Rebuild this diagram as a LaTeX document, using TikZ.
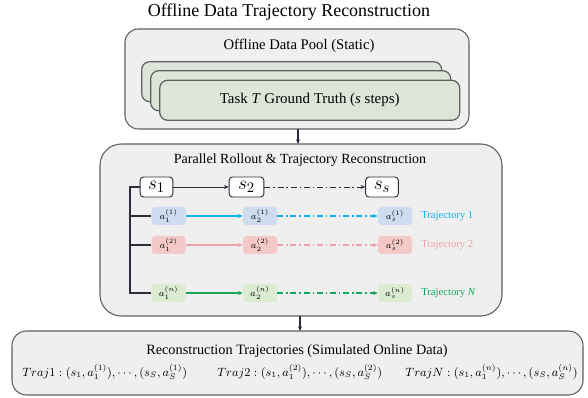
\documentclass[tikz,border=0pt]{standalone}
\usepackage{fontspec}
\setmainfont{Liberation Serif}
\usetikzlibrary{arrows.meta}
\definecolor{boxgray}{HTML}{EFEFEF}
\definecolor{boxedge}{HTML}{5F5F63}
\definecolor{taskgreen}{HTML}{DDE5D8}
\definecolor{fillblue}{HTML}{CFDCEF}
\definecolor{fillred}{HTML}{F6C9C9}
\definecolor{fillgreen}{HTML}{DCECD3}
\definecolor{lineblue}{HTML}{12B2F0}
\definecolor{linered}{HTML}{F0A2AA}
\definecolor{linegreen}{HTML}{14A85A}
\definecolor{darkline}{HTML}{2A2E38}
\tikzset{
  bigbox/.style={draw=boxedge, fill=boxgray, line width=0.8pt},
  taskbox/.style={draw=boxedge, fill=taskgreen, line width=0.9pt, rounded corners=6pt, minimum width=225pt, minimum height=30pt, inner sep=0pt},
  statebox/.style={draw=darkline, fill=white, line width=0.7pt, rounded corners=2.5pt, minimum height=15pt, inner sep=0.5pt, font=\fontsize{15}{16}\selectfont},
  actbox/.style={rounded corners=2.5pt, minimum width=25.5pt, minimum height=13.5pt, inner sep=0pt, font=\fontsize{7}{8}\selectfont},
  arr/.style={-{Stealth[length=3.5pt,width=3pt]}, line width=0.85pt},
  dd/.style={dash pattern=on 4.5pt off 2.2pt on 1pt off 2.2pt},
  titletext/.style={font=\fontsize{13.5}{15}\selectfont},
  boxtitle/.style={font=\fontsize{11}{13}\selectfont},
  trajlabel/.style={font=\fontsize{8}{9}\selectfont, anchor=west, inner sep=0pt},
  formula/.style={font=\fontsize{9.25}{11}\selectfont, inner sep=0pt}
}
\begin{document}
\begin{tikzpicture}[x=0.75pt,y=-0.75pt]
\useasboundingbox (0,0) rectangle (588,398);

% title
\node[titletext] (title) at (289,12) {Offline Data Trajectory Reconstruction};

% offline pool
\draw[bigbox, rounded corners=10pt] (125,29) rectangle (469,129);
\coordinate (poolS) at (298,129);
\node[boxtitle] (pooltitle) at (299,46) {Offline Data Pool (Static)};
\node[taskbox] (task3) at (291.7,81.7) {};
\node[taskbox] (task2) at (300.7,90.7) {};
\node[taskbox, font=\fontsize{11.2}{13}\selectfont] (task1) at (309.7,100.3) {Task \textit{T} Ground Truth (\textit{s} steps)};

% rollout box
\draw[bigbox, rounded corners=16pt] (100,144) rectangle (502,316);
\coordinate (rollN) at (298,144);
\coordinate (rollS) at (300,316);
\draw[arr, darkline, line width=0.8pt] (poolS) -- (rollN);
\node[font=\fontsize{10.5}{13}\selectfont] (rolltitle) at (300,160) {Parallel Rollout \& Trajectory Reconstruction};

% states
\node[statebox, minimum width=24.5pt] (s1) at (156.5,187) {$s_1$};
\node[statebox, minimum width=26pt] (s2) at (246.5,187) {$s_2$};
\node[statebox, minimum width=24.5pt] (ss) at (382,187) {$s_s$};
\draw[arr, darkline, line width=0.7pt] (s1) -- (s2);
\draw[arr, darkline, line width=0.7pt, dd] (s2) -- (ss);

% actions row 1
\node[actbox, fill=fillblue] (a11) at (168.7,216) {$a_1^{(1)}$};
\node[actbox, fill=fillblue] (a21) at (260,216) {$a_2^{(1)}$};
\node[actbox, fill=fillblue] (as1) at (395,216) {$a_s^{(1)}$};
\draw[arr, lineblue] (a11) -- (a21);
\draw[arr, lineblue, dd] (a21) -- (as1);
\node[trajlabel, text=lineblue] (t1) at (421,216) {Trajectory 1};

% row 2
\node[actbox, fill=fillred] (a12) at (168.7,245) {$a_1^{(2)}$};
\node[actbox, fill=fillred] (a22) at (260,245) {$a_2^{(2)}$};
\node[actbox, fill=fillred] (as2) at (395,245) {$a_s^{(2)}$};
\draw[arr, linered] (a12) -- (a22);
\draw[arr, linered, dd] (a22) -- (as2);
\node[trajlabel, text=linered] (t2) at (421,245) {Trajectory 2};

% row n
\node[actbox, fill=fillgreen] (a1n) at (168.7,293) {$a_1^{(n)}$};
\node[actbox, fill=fillgreen] (a2n) at (260,293) {$a_2^{(n)}$};
\node[actbox, fill=fillgreen] (asn) at (395,293) {$a_s^{(n)}$};
\draw[arr, linegreen] (a1n) -- (a2n);
\draw[arr, linegreen, dd] (a2n) -- (asn);
\node[trajlabel, text=linegreen] (tn) at (421,293) {Trajectory \textit{N}};

% bracket
\coordinate (brTop) at (130,187);
\coordinate (brBot) at (130,293);
\draw[darkline, line width=1.1pt] (s1.west) -- (brTop) -- (brBot) -- (a1n.west);
\draw[darkline, line width=1.1pt] (130,216) -- (a11.west);
\draw[darkline, line width=1.1pt] (130,245) -- (a12.west);

% reconstruction box
\draw[bigbox, rounded corners=11pt] (12,331) rectangle (583,395);
\coordinate (reconN) at (300,331);
\draw[arr, darkline, line width=0.8pt] (rollS) -- (reconN);
\node[font=\fontsize{10.7}{13}\selectfont] (recontitle) at (297,351) {Reconstruction Trajectories (Simulated Online Data)};
\node[formula, anchor=west] (f1) at (22,372) {$Traj1:(s_1,a_1^{(1)}),\cdots,(s_S,a_S^{(1)})$};
\node[formula, anchor=west] (f2) at (217,372) {$Traj2:(s_1,a_1^{(2)}),\cdots,(s_S,a_S^{(2)})$};
\node[formula, anchor=east] (fn) at (578,372) {$TrajN:(s_1,a_1^{(n)}),\cdots,(s_S,a_S^{(n)})$};
\end{tikzpicture}
\end{document}
